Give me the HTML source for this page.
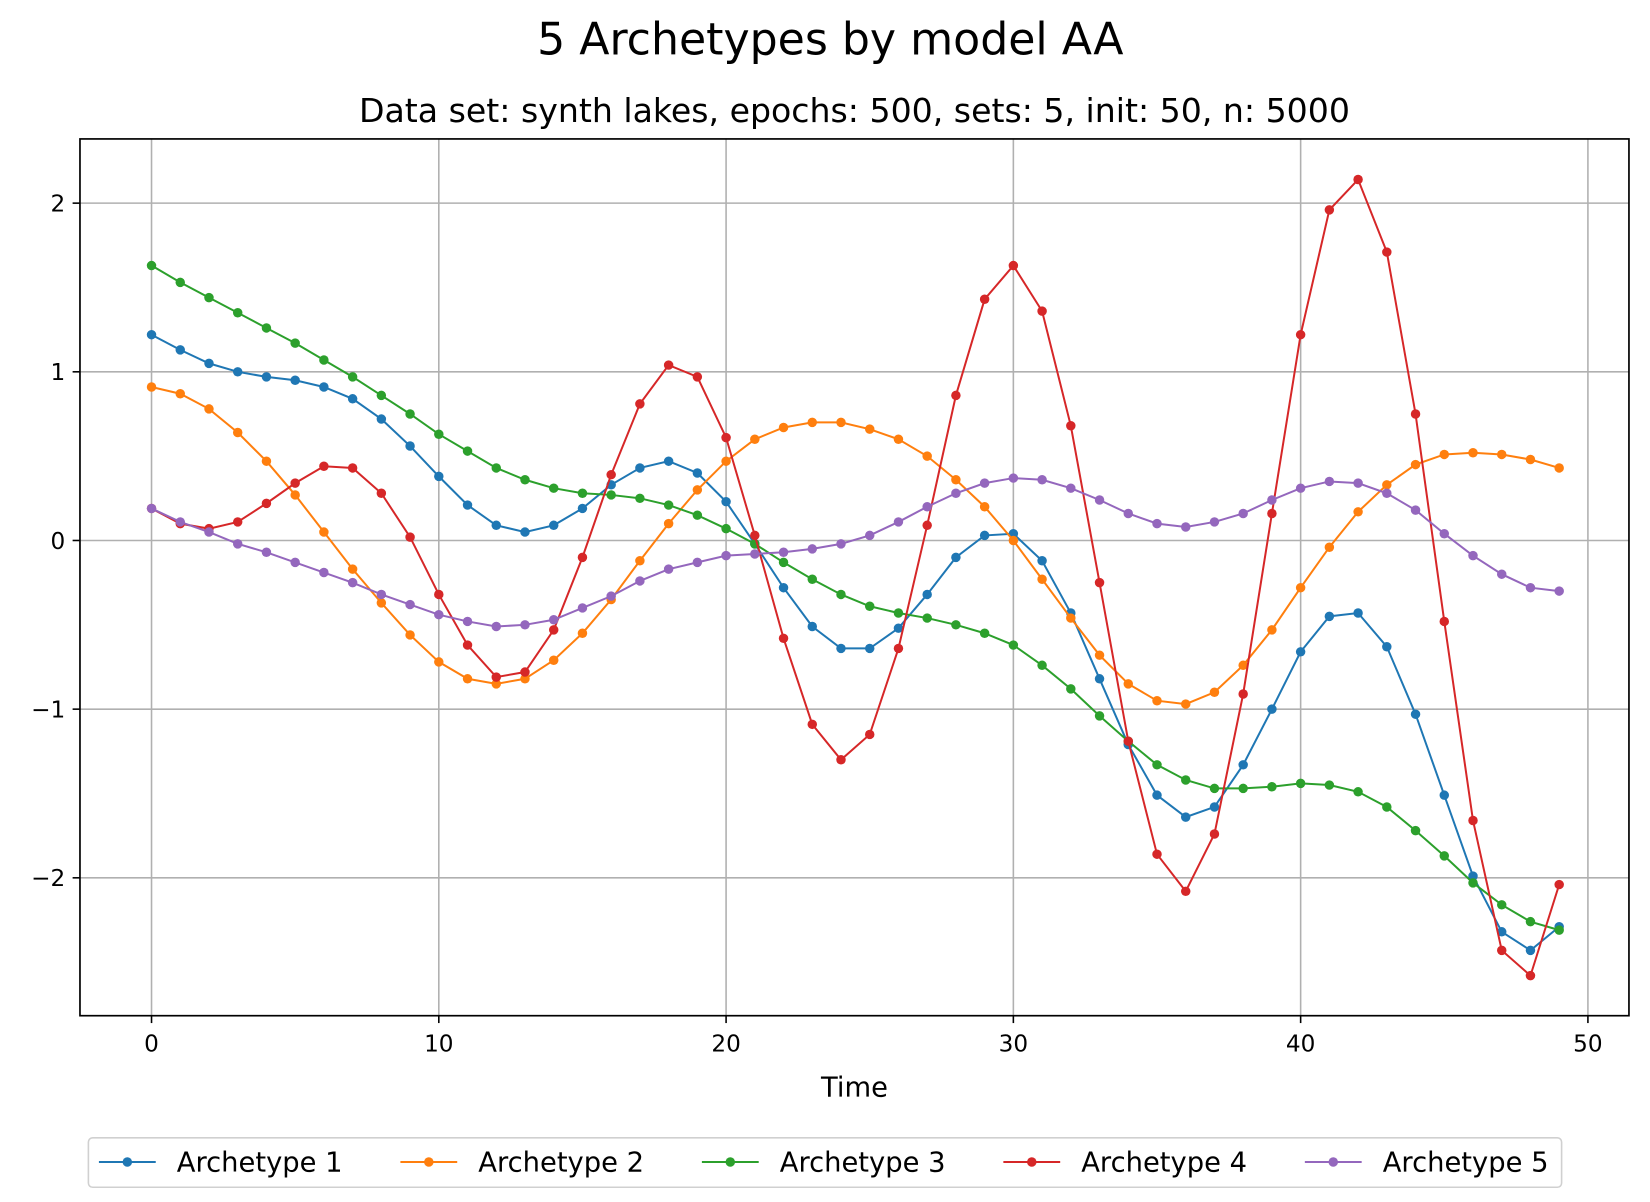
<!DOCTYPE html>
<html><head><meta charset="utf-8"><style>
html,body{margin:0;padding:0;background:#fff;}
svg{display:block;font-family:"DejaVu Sans","Liberation Sans",sans-serif;}
</style></head><body>
<svg id="chart" width="1650" height="1202" viewBox="0 0 1568 1142" preserveAspectRatio="none" xmlns="http://www.w3.org/2000/svg">
<rect x="0" y="0" width="1568" height="1142" fill="#fff"/>
<text x="789" y="52" font-size="42" text-anchor="middle" fill="#000">5 Archetypes by model AA</text>
<text x="812" y="116" font-size="31.5" text-anchor="middle" fill="#000">Data set: synth lakes, epochs: 500, sets: 5, init: 50, n: 5000</text>
<g id="grid"></g>
<g id="series"></g>
<rect x="76" y="132" width="1472" height="833" fill="none" stroke="#000" stroke-width="1.6"/>
<g id="ticks"></g>
<text x="812" y="1042" font-size="26" text-anchor="middle" fill="#000">Time</text>
<g id="legend"></g>
</svg>
<script>
const timeSteps = Array.from({length:50},(_,i)=>i);
const xTicks = [0,10,20,30,40,50];
const yTicks = [2,1,0,-1,-2];
const yTickLabels = ["2","1","0","\u22121","\u22122"];
const seriesNames = ["Archetype 1","Archetype 2","Archetype 3","Archetype 4","Archetype 5"];
const seriesColors = ["#1f77b4","#ff7f0e","#2ca02c","#d62728","#9467bd"];
const archetype1 = [1.22,1.13,1.05,1.0,0.97,0.95,0.91,0.84,0.72,0.56,0.38,0.21,0.09,0.05,0.09,0.19,0.33,0.43,0.47,0.40,0.23,-0.02,-0.28,-0.51,-0.64,-0.64,-0.52,-0.32,-0.10,0.03,0.04,-0.12,-0.43,-0.82,-1.21,-1.51,-1.64,-1.58,-1.33,-1.0,-0.66,-0.45,-0.43,-0.63,-1.03,-1.51,-1.99,-2.32,-2.43,-2.29];
const archetype2 = [0.91,0.87,0.78,0.64,0.47,0.27,0.05,-0.17,-0.37,-0.56,-0.72,-0.82,-0.85,-0.82,-0.71,-0.55,-0.35,-0.12,0.10,0.30,0.47,0.60,0.67,0.70,0.70,0.66,0.60,0.50,0.36,0.20,0.0,-0.23,-0.46,-0.68,-0.85,-0.95,-0.97,-0.90,-0.74,-0.53,-0.28,-0.04,0.17,0.33,0.45,0.51,0.52,0.51,0.48,0.43];
const archetype3 = [1.63,1.53,1.44,1.35,1.26,1.17,1.07,0.97,0.86,0.75,0.63,0.53,0.43,0.36,0.31,0.28,0.27,0.25,0.21,0.15,0.07,-0.02,-0.13,-0.23,-0.32,-0.39,-0.43,-0.46,-0.50,-0.55,-0.62,-0.74,-0.88,-1.04,-1.19,-1.33,-1.42,-1.47,-1.47,-1.46,-1.44,-1.45,-1.49,-1.58,-1.72,-1.87,-2.03,-2.16,-2.26,-2.31];
const archetype4 = [0.19,0.10,0.07,0.11,0.22,0.34,0.44,0.43,0.28,0.02,-0.32,-0.62,-0.81,-0.78,-0.53,-0.10,0.39,0.81,1.04,0.97,0.61,0.03,-0.58,-1.09,-1.30,-1.15,-0.64,0.09,0.86,1.43,1.63,1.36,0.68,-0.25,-1.19,-1.86,-2.08,-1.74,-0.91,0.16,1.22,1.96,2.14,1.71,0.75,-0.48,-1.66,-2.43,-2.58,-2.04];
const archetype5 = [0.19,0.11,0.05,-0.02,-0.07,-0.13,-0.19,-0.25,-0.32,-0.38,-0.44,-0.48,-0.51,-0.50,-0.47,-0.40,-0.33,-0.24,-0.17,-0.13,-0.09,-0.08,-0.07,-0.05,-0.02,0.03,0.11,0.20,0.28,0.34,0.37,0.36,0.31,0.24,0.16,0.10,0.08,0.11,0.16,0.24,0.31,0.35,0.34,0.28,0.18,0.04,-0.09,-0.20,-0.28,-0.30];

const NS="http://www.w3.org/2000/svg";
const xScale = v => 144 + v*(1509-144)/50;
const yScale = v => 513.5 - v*160.25;
function mk(tag, attrs, parent){const e=document.createElementNS(NS,tag);for(const k in attrs)e.setAttribute(k,attrs[k]);parent.appendChild(e);return e;}
const grid=document.getElementById('grid'), ticks=document.getElementById('ticks'), ser=document.getElementById('series'), leg=document.getElementById('legend');
xTicks.forEach(t=>{
  const x=xScale(t);
  if(x<1548){const g=mk('line',{x1:x,x2:x,y1:132,y2:965,stroke:'#b0b0b0','stroke-width':1.5},grid);
  
  }
  mk('line',{x1:x,x2:x,y1:965,y2:972,stroke:'#000','stroke-width':1.5},ticks);
  const l=mk('text',{x:x,y:999,'font-size':22,'text-anchor':'middle',fill:'#000'},ticks);
  l.textContent=t;
  
  
});
yTicks.forEach((t,i)=>{
  const y=yScale(t);
  const g=mk('line',{x1:76,x2:1548,y1:y,y2:y,stroke:'#b0b0b0','stroke-width':1.5},grid);
  
  
  mk('line',{x1:69,x2:76,y1:y,y2:y,stroke:'#000','stroke-width':1.5},ticks);
  const l=mk('text',{x:62,y:y+8,'font-size':22,'text-anchor':'end',fill:'#000'},ticks);
  l.textContent=yTickLabels[i];
  
  
});
const allSeries=[archetype1,archetype2,archetype3,archetype4,archetype5];
allSeries.forEach((vals,si)=>{
  const g=mk('g',{},ser);
  
  
  const pts=vals.map((v,i)=>xScale(timeSteps[i])+','+yScale(v)).join(' ');
  const pl=mk('polyline',{points:pts,fill:'none',stroke:seriesColors[si],'stroke-width':1.9},g);
  
  
  vals.forEach((v,i)=>{
    const c=mk('circle',{cx:xScale(timeSteps[i]),cy:yScale(v),r:4.5,fill:seriesColors[si]},g);
    
    
  });
});
const box=mk('rect',{x:84,y:1081,width:1400,height:47,rx:4,fill:'#fff',stroke:'#d0d0d0','stroke-width':1.5},leg);


seriesNames.forEach((n,i)=>{
  const x0=94+i*286.5;
  const g=mk('g',{},leg);
  
  
  mk('line',{x1:x0,x2:x0+54,y1:1104,y2:1104,stroke:seriesColors[i],'stroke-width':1.9},g);
  mk('circle',{cx:x0+27,cy:1104,r:4.5,fill:seriesColors[i]},g);
  const t=mk('text',{x:x0+74,y:1113,'font-size':26,fill:'#000'},g);
  t.textContent=n;
});
</script>
</body></html>
